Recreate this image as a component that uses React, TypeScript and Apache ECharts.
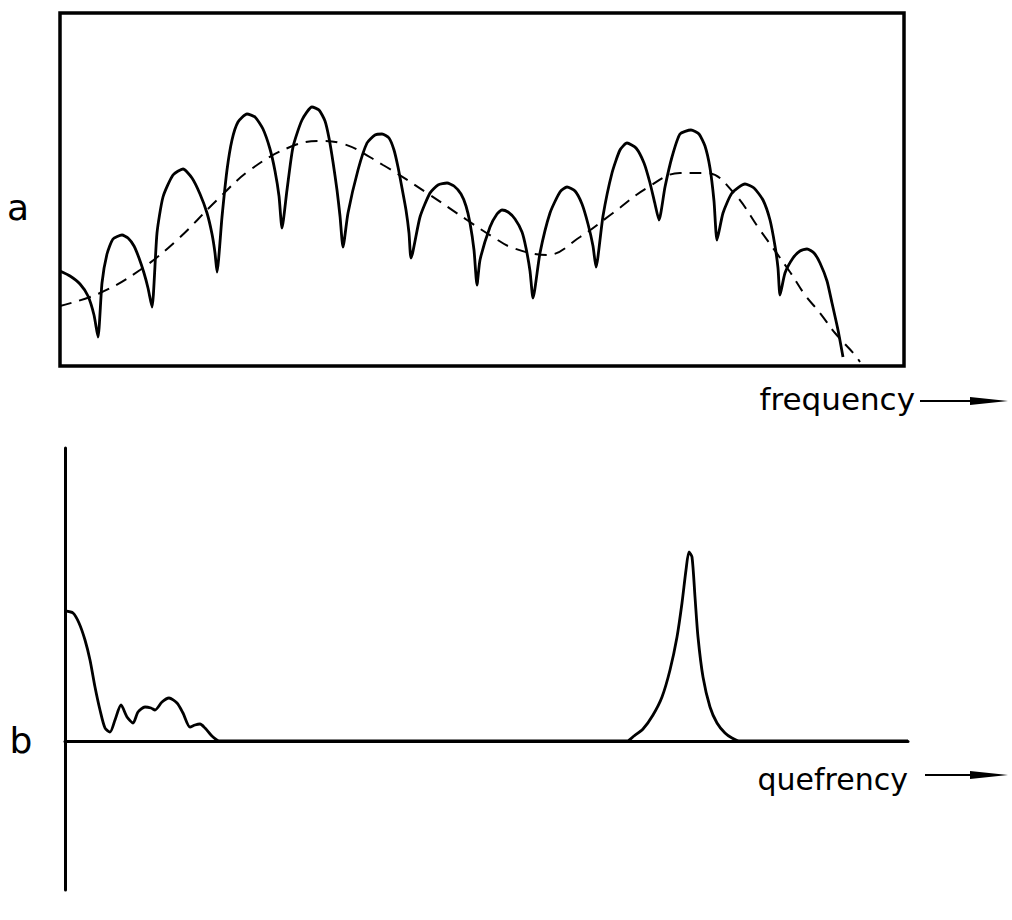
import React, { useEffect, useRef } from "react";
import * as echarts from "echarts";

// Panel a: spectrum with harmonic arches (x: frequency, y: log amplitude)
const spectrumPoints: number[][] = [
  [0, 95], [10, 90], [20, 82], [28, 70], [34, 51], [38, 29],
  [42, 83], [47, 112], [53, 127], [62, 131], [68, 128], [74, 120], [79, 108], [84, 93], [88, 78], [92, 59],
  [97, 133], [103, 169], [113, 191], [123, 197], [132, 188], [140, 172], [147, 153], [152, 132], [155, 113], [157, 94],
  [162, 149], [167, 196], [172, 226], [178, 244], [187, 252], [195, 249], [203, 237], [210, 217], [215, 195], [219, 170], [222, 138],
  [227, 176], [233, 219], [242, 246], [252, 259], [259, 256], [265, 245], [269, 228], [273, 204], [277, 176], [280, 150], [283, 119],
  [288, 153], [298, 196], [307, 223], [315, 231], [322, 232], [329, 228], [334, 216], [338, 199], [342, 178], [346, 156], [349, 133], [351, 108],
  [360, 149], [370, 173], [378, 181], [387, 183], [394, 180], [401, 172], [406, 160], [410, 143], [414, 116], [417, 81],
  [420, 106], [430, 139], [437, 152], [442, 156], [448, 154], [455, 147], [462, 134], [466, 118], [470, 95], [473, 68],
  [480, 113], [490, 153], [500, 174], [507, 179], [515, 175], [522, 162], [528, 142], [533, 120], [536, 99],
  [543, 150], [552, 193], [560, 216], [567, 223], [576, 218], [584, 203], [590, 183], [595, 162], [599, 146],
  [605, 179], [612, 209], [620, 232], [631, 236], [639, 232], [645, 220], [650, 198], [654, 165], [657, 126],
  [663, 153], [672, 173], [685, 182], [694, 178], [703, 166], [710, 146], [715, 120], [718, 98], [720, 71],
  [725, 93], [733, 108], [740, 115], [747, 117], [754, 113], [760, 103], [767, 85], [772, 63], [778, 36], [783, 9],
];

// Panel a: smooth spectral envelope (dashed)
const envelopePoints: number[][] = [
  [0, 60], [40, 73], [80, 96], [117, 126], [157, 166], [190, 196], [230, 219], [260, 225], [280, 223],
  [323, 201], [367, 173], [407, 146], [433, 129], [453, 118], [487, 111], [520, 129], [553, 153],
  [587, 178], [620, 193], [647, 193], [673, 174], [700, 136], [730, 94], [745, 71], [760, 53],
  [775, 33], [795, 11], [800, 4],
];

// Panel b: cepstrum (x: quefrency)
const cepstrumPoints: number[][] = [
  [0, 130], [8, 128], [14, 118], [20, 101], [25, 81], [30, 54], [35, 31], [40, 13], [45, 9], [50, 21],
  [56, 36], [62, 24], [68, 18], [73, 29], [80, 34], [86, 33], [90, 31], [97, 39], [104, 43], [112, 38],
  [118, 28], [125, 14], [130, 16], [135, 17], [140, 13], [148, 4], [155, 0], [562, 0], [569, 5],
  [578, 12], [588, 26], [597, 44], [605, 71], [612, 104], [617, 138], [621, 171], [624, 189], [627, 184],
  [630, 144], [633, 104], [638, 64], [645, 34], [652, 18], [660, 8], [667, 3], [675, 0], [843, 0],
];

const panelLabels = ["a", "b"];
const axisTitles = ["frequency", "quefrency"];

export default function App() {
  const ref = useRef<HTMLDivElement>(null);
  useEffect(() => {
    const chart = echarts.init(ref.current!, null, { renderer: "svg" });
    const font = "'DejaVu Sans', 'Liberation Sans', sans-serif";
    const hidden = {
      axisLine: { show: false },
      axisTick: { show: false },
      axisLabel: { show: false },
      splitLine: { show: false },
    };
    const black = "#000";
    chart.setOption({
      animation: false,
      backgroundColor: "#fff",
      grid: [
        {
          left: 60, top: 13, width: 844, height: 353,
          show: true, borderColor: black, borderWidth: 3.5, backgroundColor: "transparent",
        },
        { left: 65, top: 448, width: 843, height: 442, show: false },
      ],
      xAxis: [
        { gridIndex: 0, type: "value", min: 0, max: 844, ...hidden },
        {
          gridIndex: 1, type: "value", min: 0, max: 843,
          axisLine: { show: true, onZero: true, lineStyle: { color: black, width: 3 } },
          axisTick: { show: false }, axisLabel: { show: false }, splitLine: { show: false },
        },
      ],
      yAxis: [
        { gridIndex: 0, type: "value", min: 0, max: 353, ...hidden },
        {
          gridIndex: 1, type: "value", min: -149, max: 293,
          axisLine: { show: true, onZero: false, lineStyle: { color: black, width: 3 } },
          axisTick: { show: false }, axisLabel: { show: false }, splitLine: { show: false },
        },
      ],
      series: [
        {
          type: "line", xAxisIndex: 0, yAxisIndex: 0, data: spectrumPoints,
          showSymbol: false, smooth: 0.2, lineStyle: { color: black, width: 2.8 },
        },
        {
          type: "line", xAxisIndex: 0, yAxisIndex: 0, data: envelopePoints,
          showSymbol: false, smooth: 0.4, lineStyle: { color: black, width: 2, type: [12, 8] },
        },
        {
          type: "line", xAxisIndex: 1, yAxisIndex: 1, data: cepstrumPoints,
          showSymbol: false, smooth: 0.25, lineStyle: { color: black, width: 2.8 },
        },
      ],
      graphic: [
        {
          type: "text", x: 18, y: 207,
          style: { text: panelLabels[0], font: `36px ${font}`, fill: black, textAlign: "center", textVerticalAlign: "middle" },
        },
        {
          type: "text", x: 21, y: 740,
          style: { text: panelLabels[1], font: `36px ${font}`, fill: black, textAlign: "center", textVerticalAlign: "middle" },
        },
        {
          type: "text", x: 915, y: 399,
          style: { text: axisTitles[0], font: `31px ${font}`, fill: black, textAlign: "right", textVerticalAlign: "middle" },
        },
        {
          type: "text", x: 908, y: 779,
          style: { text: axisTitles[1], font: `30px ${font}`, fill: black, textAlign: "right", textVerticalAlign: "middle" },
        },
        { type: "line", shape: { x1: 920, y1: 401, x2: 980, y2: 401 }, style: { stroke: black, lineWidth: 2 } },
        { type: "polygon", shape: { points: [[970, 397], [1008, 401], [970, 405]] }, style: { fill: black } },
        { type: "line", shape: { x1: 925, y1: 775, x2: 980, y2: 775 }, style: { stroke: black, lineWidth: 2 } },
        { type: "polygon", shape: { points: [[970, 771], [1008, 775], [970, 779]] }, style: { fill: black } },
      ],
    });
    return () => chart.dispose();
  }, []);
  return (
    <div
      ref={ref}
      style={{ position: "fixed", left: 0, top: 0, width: 1012, height: 920, background: "#fff" }}
    />
  );
}
